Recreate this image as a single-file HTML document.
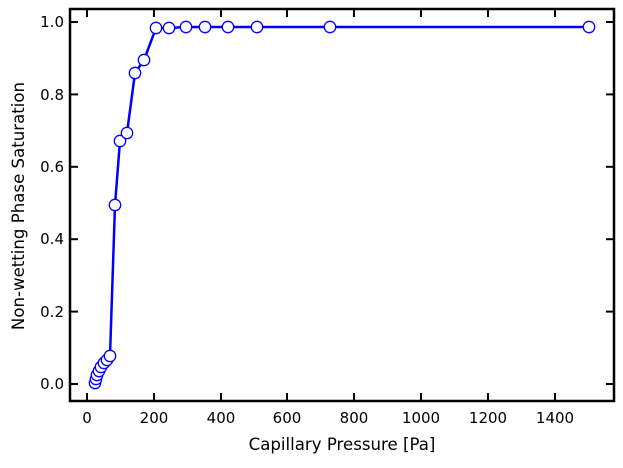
<!DOCTYPE html>
<html><head><style>body{margin:0;background:#fff}</style></head><body>
<svg width="623" height="463" xmlns="http://www.w3.org/2000/svg" font-family="DejaVu Sans, sans-serif">
<rect width="623" height="463" fill="#fff"/>
<g stroke="#000" stroke-width="2">
<line x1="87" y1="401" x2="87" y2="393"/><line x1="154" y1="401" x2="154" y2="393"/><line x1="221" y1="401" x2="221" y2="393"/><line x1="287" y1="401" x2="287" y2="393"/><line x1="354" y1="401" x2="354" y2="393"/><line x1="421" y1="401" x2="421" y2="393"/><line x1="488" y1="401" x2="488" y2="393"/><line x1="555" y1="401" x2="555" y2="393"/>
<line x1="87" y1="9" x2="87" y2="17"/><line x1="154" y1="9" x2="154" y2="17"/><line x1="221" y1="9" x2="221" y2="17"/><line x1="287" y1="9" x2="287" y2="17"/><line x1="354" y1="9" x2="354" y2="17"/><line x1="421" y1="9" x2="421" y2="17"/><line x1="488" y1="9" x2="488" y2="17"/><line x1="555" y1="9" x2="555" y2="17"/>
<line x1="70" y1="384" x2="78" y2="384"/><line x1="70" y1="311.6" x2="78" y2="311.6"/><line x1="70" y1="239.2" x2="78" y2="239.2"/><line x1="70" y1="166.8" x2="78" y2="166.8"/><line x1="70" y1="94.4" x2="78" y2="94.4"/><line x1="70" y1="22" x2="78" y2="22"/>
<line x1="614" y1="384" x2="606" y2="384"/><line x1="614" y1="311.6" x2="606" y2="311.6"/><line x1="614" y1="239.2" x2="606" y2="239.2"/><line x1="614" y1="166.8" x2="606" y2="166.8"/><line x1="614" y1="94.4" x2="606" y2="94.4"/><line x1="614" y1="22" x2="606" y2="22"/>
</g>
<rect x="70" y="9" width="544" height="392" fill="none" stroke="#000" stroke-width="2.5"/>
<g font-size="15" text-anchor="middle" fill="#000">
<text x="87" y="423">0</text><text x="154" y="423">200</text><text x="221" y="423">400</text><text x="287" y="423">600</text><text x="354" y="423">800</text><text x="421" y="423">1000</text><text x="488" y="423">1200</text><text x="555" y="423">1400</text>
<text x="342" y="450" font-size="16.6">Capillary Pressure [Pa]</text>
</g>
<g font-size="15" text-anchor="end">
<text x="64" y="389">0.0</text><text x="64" y="317">0.2</text><text x="64" y="244">0.4</text><text x="64" y="172">0.6</text><text x="64" y="100">0.8</text><text x="64" y="27">1.0</text>
</g>
<text transform="translate(24,206) rotate(-90)" font-size="16.6" text-anchor="middle">Non-wetting Phase Saturation</text>
<polyline fill="none" stroke="#0000ff" stroke-width="2.5" points="95,383 96,379 97,375 99,371 101,367 104,363 107,360 110,356 115,205 120,141 127,133 135,73 144,60 156,28 169,28 186,27 205,27 228,27 257,27 330,27 589,27"/>
<g fill="#fff" stroke="#0000ff" stroke-width="1.3">
<circle cx="95" cy="383" r="5.7"/><circle cx="96" cy="379" r="5.7"/><circle cx="97" cy="375" r="5.7"/><circle cx="99" cy="371" r="5.7"/><circle cx="101" cy="367" r="5.7"/><circle cx="104" cy="363" r="5.7"/><circle cx="107" cy="360" r="5.7"/><circle cx="110" cy="356" r="5.7"/><circle cx="115" cy="205" r="5.7"/><circle cx="120" cy="141" r="5.7"/><circle cx="127" cy="133" r="5.7"/><circle cx="135" cy="73" r="5.7"/><circle cx="144" cy="60" r="5.7"/><circle cx="156" cy="28" r="5.7"/><circle cx="169" cy="28" r="5.7"/><circle cx="186" cy="27" r="5.7"/><circle cx="205" cy="27" r="5.7"/><circle cx="228" cy="27" r="5.7"/><circle cx="257" cy="27" r="5.7"/><circle cx="330" cy="27" r="5.7"/><circle cx="589" cy="27" r="5.7"/>
</g>
</svg>
</body></html>
